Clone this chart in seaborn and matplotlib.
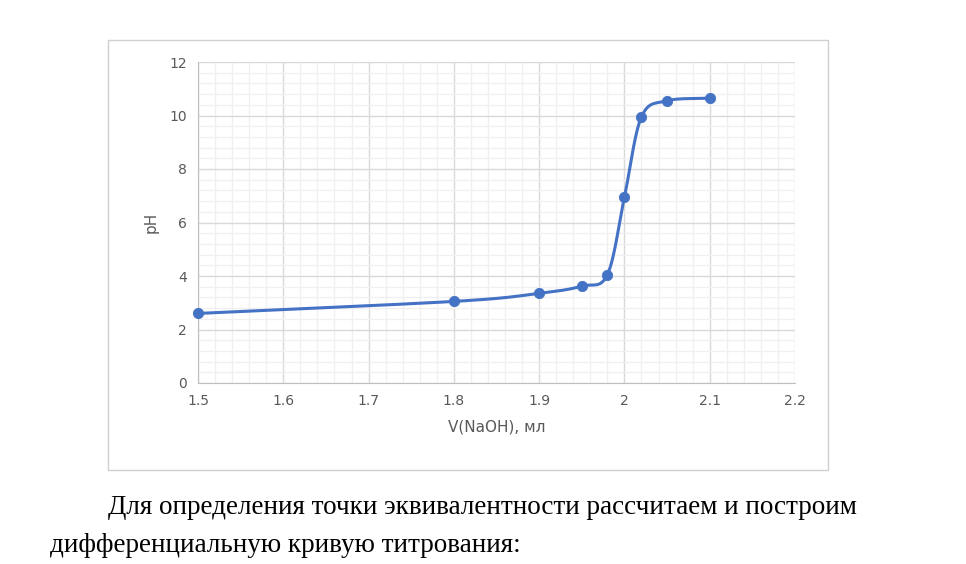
import numpy as np
import pandas as pd
import matplotlib
matplotlib.use("Agg")
import matplotlib.pyplot as plt
import seaborn as sns
from matplotlib.patches import Rectangle
from matplotlib.ticker import MultipleLocator

volume = [1.5, 1.8, 1.9, 1.95, 1.98, 2.0, 2.02, 2.05, 2.1]
ph = [2.6, 3.05, 3.35, 3.62, 4.05, 6.95, 9.95, 10.55, 10.65]

def catmull(xs, ys, n=30):
    xs = np.asarray(xs); ys = np.asarray(ys)
    px = np.concatenate([[2*xs[0]-xs[1]], xs, [2*xs[-1]-xs[-2]]])
    py = np.concatenate([[2*ys[0]-ys[1]], ys, [2*ys[-1]-ys[-2]]])
    ox, oy = [], []
    for i in range(1, len(px)-2):
        t = np.linspace(0, 1, n)
        for arr, out in ((px, ox), (py, oy)):
            p0, p1, p2, p3 = arr[i-1], arr[i], arr[i+1], arr[i+2]
            out.extend(0.5*((2*p1) + (-p0+p2)*t + (2*p0-5*p1+4*p2-p3)*t**2 + (-p0+3*p1-3*p2+p3)*t**3))
    return np.array(ox), np.array(oy)

sx, sy = catmull(volume, ph)
sns.set_style("white")
fig = plt.figure(figsize=(9.66, 5.64), dpi=100)
ax = fig.add_axes([198/966, 1-383/564, (795-198)/966, (383-62)/564])
fig.patches.append(Rectangle((108/966, 1-470/564), 720/966, 430/564, transform=fig.transFigure,
                             fill=False, edgecolor="#d0d0d0", linewidth=1))
color = "#4472c4"
ax.plot(sx, sy, color=color, linewidth=2.2, zorder=3, clip_on=False)
sns.scatterplot(x=volume, y=ph, ax=ax, color=color, s=55, edgecolor=color, zorder=4, clip_on=False)
ax.set_xlim(1.5, 2.2); ax.set_ylim(0, 12)
ax.xaxis.set_major_locator(MultipleLocator(0.1)); ax.xaxis.set_minor_locator(MultipleLocator(0.02))
ax.yaxis.set_major_locator(MultipleLocator(2)); ax.yaxis.set_minor_locator(MultipleLocator(0.4))
ax.set_xticks(np.round(np.arange(1.5, 2.21, 0.1), 1))
ax.set_xticklabels(["1.5", "1.6", "1.7", "1.8", "1.9", "2", "2.1", "2.2"])
ax.grid(which="major", color="#d9d9d9", linewidth=1)
ax.grid(which="minor", color="#f0f0f0", linewidth=1)
ax.set_axisbelow(True)
for s in ["top", "right"]:
    ax.spines[s].set_visible(False)
for s in ["left", "bottom"]:
    ax.spines[s].set_color("#bfbfbf")
ax.tick_params(which="both", length=0, labelsize=10, colors="#595959", pad=8)
ax.set_xlabel("V(NaOH), мл", fontsize=11, color="#595959", labelpad=8)
ax.set_ylabel("pH", fontsize=11, color="#595959", labelpad=8)
fig.text(108/966, 1-507/564, "Для определения точки эквивалентности рассчитаем и построим",
         fontsize=19.5, family="Liberation Serif", va="center", color="black")
fig.text(50/966, 1-546/564, "дифференциальную кривую титрования:",
         fontsize=19.5, family="Liberation Serif", va="center", color="black")
fig.savefig("out.png", dpi=100)
